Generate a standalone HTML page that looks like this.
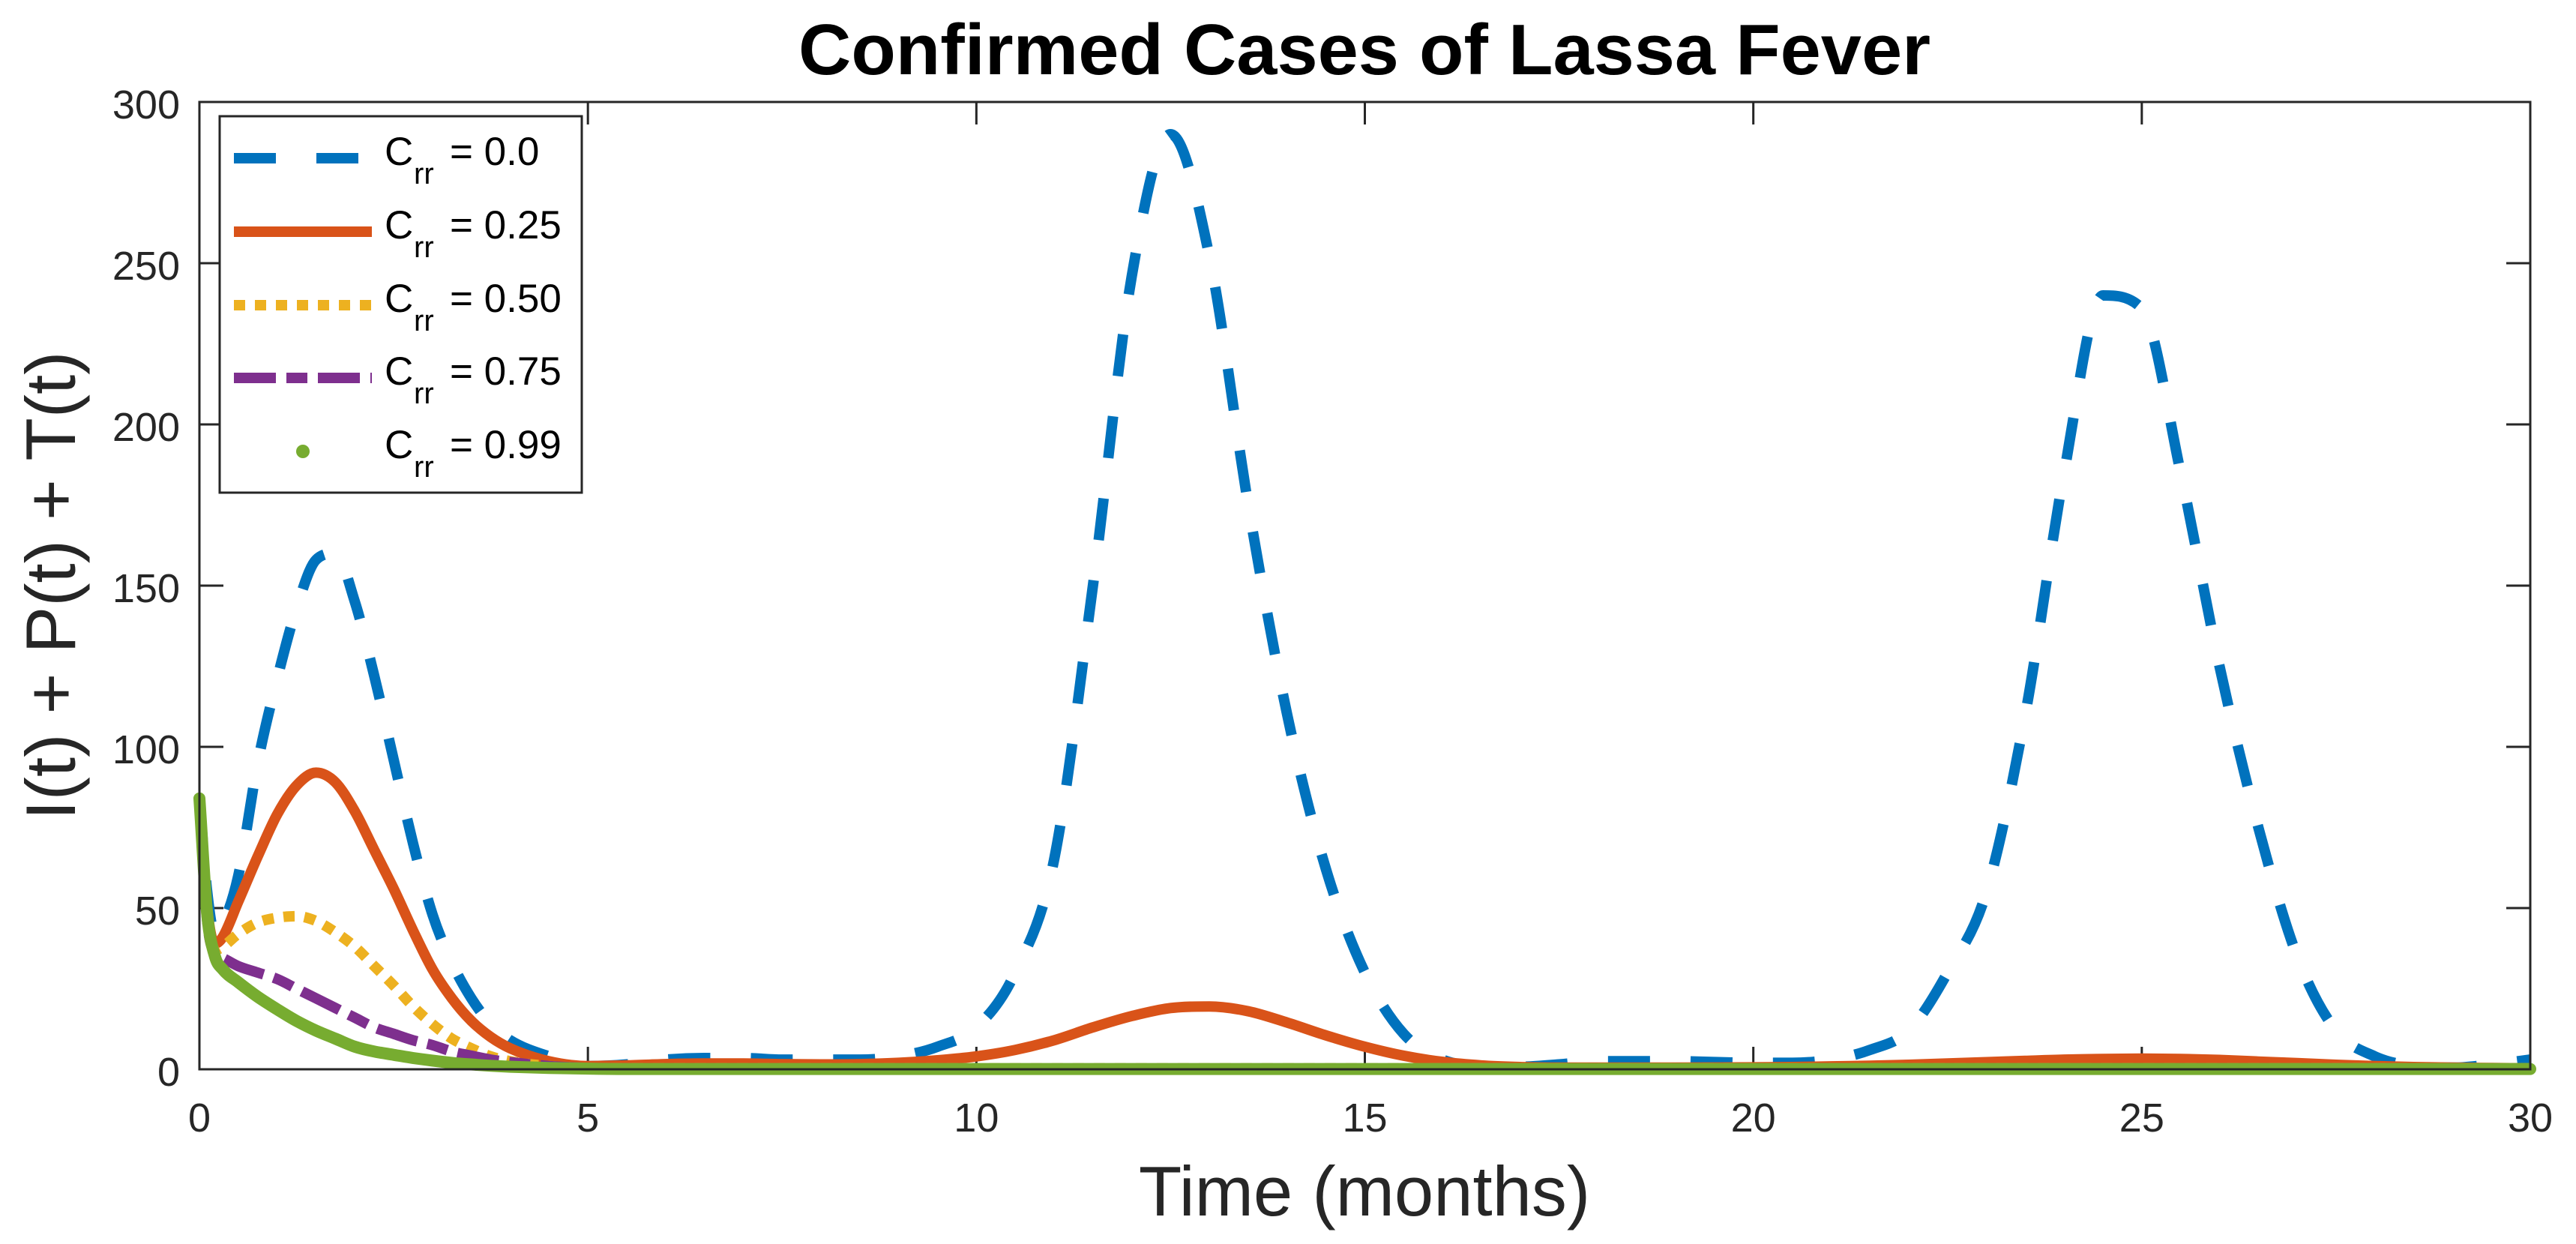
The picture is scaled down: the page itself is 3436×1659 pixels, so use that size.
<!DOCTYPE html>
<html><head><meta charset="utf-8"><style>
html,body{margin:0;padding:0;background:#fff;}
svg{display:block;font-family:"Liberation Sans",Arial,sans-serif;}
</style></head><body>
<svg id="chart" width="3436" height="1659" viewBox="0 0 3436 1659" xmlns="http://www.w3.org/2000/svg">
<rect x="0" y="0" width="3436" height="1659" fill="#fff"/>
<text x="1820" y="99" text-anchor="middle" font-size="96" font-weight="bold" fill="#000" textLength="1510" lengthAdjust="spacingAndGlyphs">Confirmed Cases of Lassa Fever</text>
<text x="1820" y="1621" text-anchor="middle" font-size="94" fill="#262626">Time (months)</text>
<text transform="translate(100,781) rotate(-90)" text-anchor="middle" font-size="94" fill="#262626">I(t) + P(t) + T(t)</text>
<g id="ticks"></g>
<g id="series"></g>
<rect x="266" y="136" width="3109" height="1290" fill="none" stroke="#262626" stroke-width="3"/>
<g id="legend"></g>
</svg>
<script>
const tVals = [0,0.1,0.2,0.3,0.5,0.75,1,1.25,1.5,1.75,2,2.25,2.5,2.75,3,3.25,3.5,3.75,4,4.5,5,5.5,6,6.5,7,7.5,8,8.5,9,9.5,10,10.5,11,11.5,12,12.5,13,13.5,14,14.5,15,15.5,16,16.5,17,17.5,18,19,20,20.5,21,21.5,22,22.5,23,23.5,24,24.5,25,25.5,26,26.5,27,27.5,28,28.5,29,29.5,30];
const crr000 = [84,55,42,45,60,95,121,143,158,160,145,122,96,70,48,33,22,14,9,4,1,1.5,3,3.5,3.5,3,3,3,4,7,13,30,65,150,246,290,252,175,110,62,30,11,3,1,0.8,1.5,2.5,2.5,2,2,3,6,12,30,55,110,185,240,236,185,125,75,35,12,4,1,0.5,1.5,3];
const crr025 = [84,50,39,41,52,66,79,88,92,89,80,68,56,43,31,22,15,10,6.5,2.5,1,1.2,1.6,1.8,1.8,1.6,1.5,1.6,2,2.8,4,6,9,13,16.5,19,19.5,18,14.5,10.5,7,4.2,2.3,1.2,0.7,0.5,0.5,0.5,0.6,0.7,0.9,1.1,1.4,1.8,2.2,2.6,3,3.2,3.3,3.2,2.9,2.4,1.9,1.4,1,0.7,0.5,0.4,0.3];
const crr050 = [84,48,37,38,42,45.5,47,47.5,46,42.5,38,32,26,19.5,14,9.5,6.5,4,2.5,1,0.4,0.3,0.3,0.3,0.3,0.3,0.3,0.3,0.3,0.3,0.3,0.3,0.3,0.3,0.3,0.3,0.3,0.3,0.3,0.3,0.3,0.3,0.3,0.3,0.3,0.3,0.3,0.3,0.3,0.3,0.3,0.3,0.3,0.3,0.3,0.3,0.3,0.3,0.3,0.3,0.3,0.3,0.3,0.3,0.3,0.3,0.3,0.3,0.3];
const crr075 = [84,46,36,34.5,32,30,28,25,22,19,16,13,11,9,7.5,5.5,4.2,3,2.2,1,0.4,0.2,0.2,0.2,0.2,0.2,0.2,0.2,0.2,0.2,0.2,0.2,0.2,0.2,0.2,0.2,0.2,0.2,0.2,0.2,0.2,0.2,0.2,0.2,0.2,0.2,0.2,0.2,0.2,0.2,0.2,0.2,0.2,0.2,0.2,0.2,0.2,0.2,0.2,0.2,0.2,0.2,0.2,0.2,0.2,0.2,0.2,0.2,0.2];
const crr099 = [84,48,35,31,27,22.5,18.6,15,12,9.5,7,5.5,4.5,3.5,2.7,2,1.5,1.1,0.8,0.4,0.2,0.1,0.1,0.1,0.1,0.1,0.1,0.1,0.1,0.1,0.1,0.1,0.1,0.1,0.1,0.1,0.1,0.1,0.1,0.1,0.1,0.1,0.1,0.1,0.1,0.1,0.1,0.1,0.1,0.1,0.1,0.1,0.1,0.1,0.1,0.1,0.1,0.1,0.1,0.1,0.1,0.1,0.1,0.1,0.1,0.1,0.1,0.1,0.1];
const xTicks = [0,5,10,15,20,25,30];
const yTicks = [0,50,100,150,200,250,300];
const legendLabels = ["0.0","0.25","0.50","0.75","0.99"];

const NS = "http://www.w3.org/2000/svg";
const X0 = 266, X1 = 3375, Y0 = 1426, Y1 = 136;
const xMin = 0, xMax = 30, yMin = 0, yMax = 300;
function xs(v){ return X0 + (v - xMin) / (xMax - xMin) * (X1 - X0); }
function ys(v){ return Y0 - (v - yMin) / (yMax - yMin) * (Y0 - Y1); }
function mk(tag, attrs){ const e = document.createElementNS(NS, tag); for (const k in attrs) e.setAttribute(k, attrs[k]); return e; }

const tg = document.getElementById("ticks");
xTicks.forEach(v => {
  const x = xs(v);
  const a = mk("line", {x1:x, y1:Y0, x2:x, y2:Y0-30, stroke:"#262626", "stroke-width":3});
  
  
  tg.appendChild(a);
  const b = mk("line", {x1:x, y1:Y1, x2:x, y2:Y1+30, stroke:"#262626", "stroke-width":3});
  
  
  tg.appendChild(b);
  const t = mk("text", {x:x, y:1509, "text-anchor":"middle", "font-size":54, fill:"#262626"});
  
  
  t.textContent = String(v);
  tg.appendChild(t);
});
yTicks.forEach(v => {
  const y = ys(v);
  const a = mk("line", {x1:X0, y1:y, x2:X0+32, y2:y, stroke:"#262626", "stroke-width":3});
  
  
  tg.appendChild(a);
  const b = mk("line", {x1:X1, y1:y, x2:X1-32, y2:y, stroke:"#262626", "stroke-width":3});
  
  
  tg.appendChild(b);
  const t = mk("text", {x:240, y:y+22, "text-anchor":"end", "font-size":54, fill:"#262626"});
  
  
  t.textContent = String(v);
  tg.appendChild(t);
});

function monotonePath(xv, yv){
  const n = xv.length, px = xv.map(xs), py = yv.map(ys);
  const d = [], m = new Array(n);
  for (let i = 0; i < n-1; i++) d.push((py[i+1]-py[i])/(px[i+1]-px[i]));
  m[0] = d[0]; m[n-1] = d[n-2];
  for (let i = 1; i < n-1; i++) m[i] = (d[i-1]*d[i] <= 0) ? 0 : (d[i-1]+d[i])/2;
  for (let i = 0; i < n-1; i++) {
    if (d[i] === 0) { m[i] = 0; m[i+1] = 0; continue; }
    const a = m[i]/d[i], b = m[i+1]/d[i], s = a*a+b*b;
    if (s > 9) { const t = 3/Math.sqrt(s); m[i] = t*a*d[i]; m[i+1] = t*b*d[i]; }
  }
  let p = "M" + px[0].toFixed(1) + "," + py[0].toFixed(1);
  for (let i = 0; i < n-1; i++) {
    const h = (px[i+1]-px[i])/3;
    p += " C" + (px[i]+h).toFixed(1) + "," + (py[i]+m[i]*h).toFixed(1) + " " + (px[i+1]-h).toFixed(1) + "," + (py[i+1]-m[i+1]*h).toFixed(1) + " " + px[i+1].toFixed(1) + "," + py[i+1].toFixed(1);
  }
  return p;
}

const sg = document.getElementById("series");
const styles = [
  {c:"#0072BD", dash:"56 54", w:14, cap:"butt"},
  {c:"#D95319", dash:"", w:14, cap:"butt"},
  {c:"#EDB120", dash:"15 13", w:14, cap:"butt"},
  {c:"#7E2F8E", dash:"56 14 28 14", w:14, cap:"butt"},
  {c:"#77AC30", dash:"", w:16, cap:"round"}
];
const allSeries = [crr000, crr025, crr050, crr075, crr099];
const seriesNames = ["series-crr-0-0","series-crr-0-25","series-crr-0-50","series-crr-0-75","series-crr-0-99"];
allSeries.forEach((vals, i) => {
  const s = styles[i];
  const p = mk("path", {d: monotonePath(tVals, vals), fill:"none", stroke:s.c, "stroke-width":s.w, "stroke-linecap":s.cap, "stroke-linejoin":"round"});
  if (s.dash) p.setAttribute("stroke-dasharray", s.dash);
  
  
  sg.appendChild(p);
});

const lg = document.getElementById("legend");
const box = mk("rect", {x:293, y:155, width:483, height:502, fill:"#fff", stroke:"#262626", "stroke-width":3});


lg.appendChild(box);
const rowY = [211, 309, 407, 504, 602];
legendLabels.forEach((lab, i) => {
  const y = rowY[i], s = styles[i];
  const g = mk("g", {});
  
  
  if (i < 4) {
    const l = mk("line", {x1:312, y1:y, x2:496, y2:y, stroke:s.c, "stroke-width":s.w});
    if (s.dash) l.setAttribute("stroke-dasharray", s.dash);
    
    
    g.appendChild(l);
  } else {
    const c = mk("circle", {cx:404, cy:y, r:9, fill:s.c});
    
    
    g.appendChild(c);
  }
  const t1 = mk("text", {x:513, y:y+9, "font-size":53, fill:"#000"});
  
  
  t1.textContent = "C";
  g.appendChild(t1);
  const t2 = mk("text", {x:552, y:y+34, "font-size":40, fill:"#000"});
  
  
  t2.textContent = "rr";
  g.appendChild(t2);
  const t3 = mk("text", {x:600, y:y+9, "font-size":53, fill:"#000"});
  
  
  t3.textContent = "= " + lab;
  g.appendChild(t3);
  lg.appendChild(g);
});
</script>
</body></html>
